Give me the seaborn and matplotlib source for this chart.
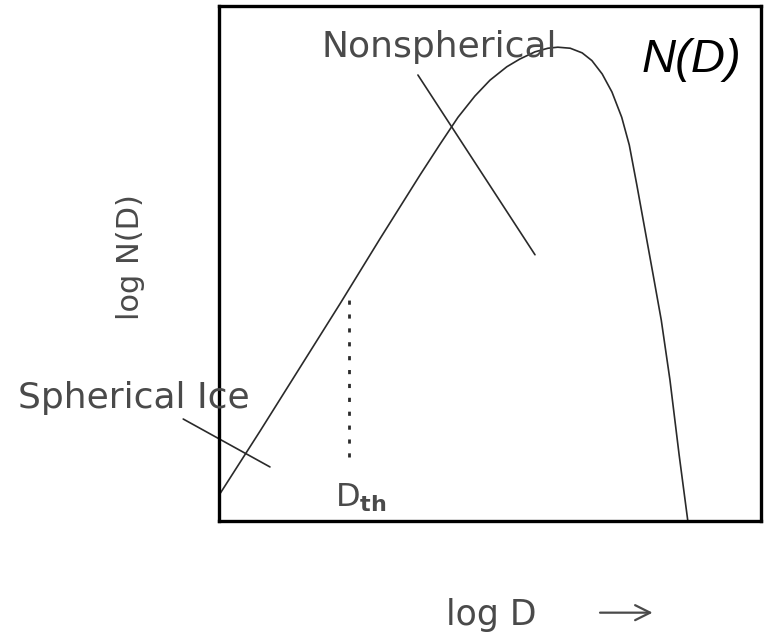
import matplotlib
matplotlib.use("Agg")
import matplotlib.pyplot as plt
import seaborn as sns
import pandas as pd

# Size distribution curve N(D) in arbitrary log-log units
log_d = [0.00, 0.76, 1.50, 2.24, 2.97, 3.71, 4.08, 4.41, 4.72, 5.00, 5.31,
         5.55, 5.83, 6.07, 6.25, 6.48, 6.70, 6.88, 7.07, 7.25, 7.43, 7.57,
         7.71, 7.86, 8.01, 8.16, 8.32, 8.49, 8.65]
log_n = [0.50, 1.75, 2.99, 4.23, 5.48, 6.72, 7.32, 7.84, 8.25, 8.56, 8.82,
         8.97, 9.11, 9.18, 9.20, 9.18, 9.09, 8.94, 8.68, 8.33, 7.84, 7.30,
         6.52, 5.65, 4.78, 3.90, 2.74, 1.28, 0.00]

# Threshold diameter separating spherical and nonspherical ice
d_th = 2.40
d_th_range = [1.24, 4.35]

# Leader lines for the two annotations
nonsph_x = [3.67, 5.83]
nonsph_y = [8.66, 5.17]
sph_x = [-0.66, 0.94]
sph_y = [1.98, 1.05]

sns.set_theme(style="white")
plt.rcParams["font.family"] = ["DejaVu Sans"]
plt.rcParams["mathtext.default"] = "regular"

fig = plt.figure(figsize=(7.64, 6.36), dpi=100)
ax = fig.add_axes([219 / 764, 1 - 521 / 636, 542 / 764, 515 / 636])

df = pd.DataFrame({"log D": log_d, "log N(D)": log_n})
sns.lineplot(data=df, x="log D", y="log N(D)", ax=ax, color="#2a2a2a",
             linewidth=1.2, sort=False, estimator=None)

ax.plot([d_th, d_th], d_th_range, color="#2a2a2a", linewidth=2.0,
        linestyle=(0, (1.5, 3.5)))
ax.plot(nonsph_x, nonsph_y, color="#2a2a2a", linewidth=1.2)
ax.plot(sph_x, sph_y, color="#2a2a2a", linewidth=1.2, clip_on=False)

ax.set_xlim(0, 10)
ax.set_ylim(0, 10)
ax.set_xticks([])
ax.set_yticks([])
for sp in ax.spines.values():
    sp.set_visible(True)
    sp.set_color("black")
    sp.set_linewidth(2.4)

gray = "#4a4a4a"
ax.text(1.90, 9.01, "Nonspherical", fontsize=26, color=gray, va="baseline")
ax.text(-3.71, 2.19, "Spherical Ice", fontsize=26, color=gray, va="baseline",
        clip_on=False)
ax.text(2.14, 0.27, r"D$_{\mathbf{th}}$", fontsize=23, color=gray, va="baseline")
ax.text(7.80, 8.72, "N(D)", fontsize=34, style="italic", color="black",
        family="Liberation Sans", va="baseline")

ax.set_ylabel("log N(D)", fontsize=22, color=gray)
ax.yaxis.set_label_coords(-0.137, 0.513)
ax.set_xlabel("log D", fontsize=25, color=gray, va="center")
ax.xaxis.set_label_coords(0.502, -0.183)
ax.annotate("", xy=(0.800, -0.178), xytext=(0.703, -0.178),
            xycoords="axes fraction", textcoords="axes fraction",
            arrowprops=dict(arrowstyle="->,head_length=0.9,head_width=0.45",
                            color=gray, linewidth=1.6, shrinkA=0, shrinkB=0))

fig.savefig("out.png", dpi=100, facecolor="white")
